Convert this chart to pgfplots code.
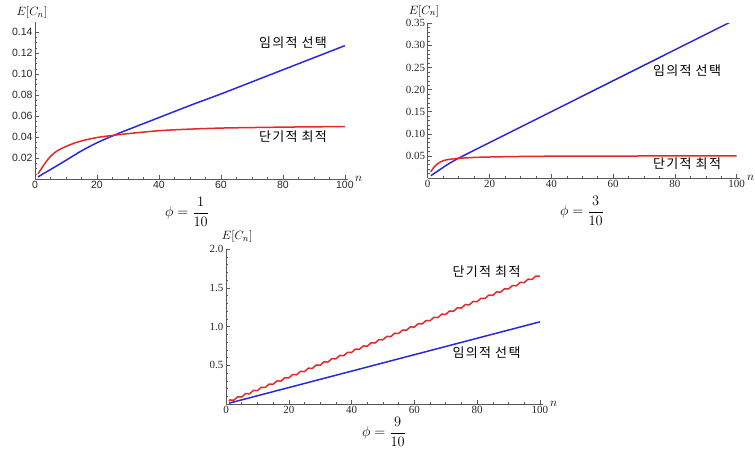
\documentclass[border=0pt]{standalone}
\usepackage{fontspec}
\setmainfont{Liberation Serif}
\newfontfamily\sansf{Liberation Sans}
\newfontfamily\kr{Noto Sans CJK KR}[LetterSpace=10]
\usepackage{pgfplots}
\pgfplotsset{compat=1.18}
\definecolor{cblue}{RGB}{40,40,225}
\definecolor{cred}{RGB}{228,40,40}
\pgfplotsset{
  mma/.style={
    scale only axis,
    anchor=south west,
    axis lines=left,
    axis line style={-, black!65, line width=0.6pt},
    every tick/.style={black!65, line width=0.5pt},
    tick align=inside,
    major tick length=4pt,
    minor tick length=2pt,
    xmin=0, xmax=101, ymin=0,
    xtick={0,20,40,60,80,100},
    minor x tick num=3,
    /pgf/number format/assume math mode=true,
    xticklabel style={yshift=1pt},
    yticklabel style={xshift=1pt},
    every axis plot/.append style={line width=1.5pt, line join=round},
    xlabel={$n$},
    xlabel style={at={(rel axis cs:1,0)}, anchor=west, xshift=7pt, font=\fontsize{12}{14}\selectfont, inner sep=0pt},
    ylabel={$E[C_n]$},
    ylabel style={rotate=-90, at={(rel axis cs:-0.01,1)}, anchor=south, yshift=4pt, font=\fontsize{12.5}{14}\selectfont, inner sep=0pt},
  }
}
\begin{document}
\begin{tikzpicture}[x=1pt,y=1pt]
\useasboundingbox (0,0) rectangle (755,456);

% ---------- phi = 1/10 ----------
\begin{axis}[mma,
  at={(35pt,277pt)}, width=313pt, height=157.5pt,
  ymax=0.15,
  ytick={0,0.02,0.04,0.06,0.08,0.10,0.12,0.14},
  yticklabels={{},0.02,0.04,0.06,0.08,0.10,0.12,0.14},
  minor y tick num=3,
  ticklabel style={font=\sansf\fontsize{10.5}{12}\selectfont, text=black!85},
  ylabel style={yshift=-1pt},
]
\addplot[cblue, smooth] coordinates {
(1,0.002) (2,0.0038) (3,0.0056) (5,0.009) (7,0.0125) (10,0.0178) (15,0.0268)
(20,0.0345) (25,0.041) (30,0.047) (40,0.0585) (50,0.070) (60,0.081)
(70,0.0925) (80,0.104) (90,0.1155) (100,0.127)};
\addplot[cred, smooth] coordinates {
(1,0.005) (2,0.0095) (3,0.014) (4,0.018) (5,0.0215) (7,0.0265) (10,0.031)
(13,0.0345) (16,0.037) (20,0.0395) (25,0.0415) (30,0.0432) (40,0.046)
(50,0.0475) (60,0.0485) (70,0.049) (80,0.0494) (90,0.0497) (100,0.0499)};
\end{axis}

% ---------- phi = 3/10 ----------
\begin{axis}[mma,
  at={(427.7pt,278pt)}, width=312.1pt, height=154.7pt,
  ymax=0.35,
  ytick={0,0.05,0.10,0.15,0.20,0.25,0.30,0.35},
  yticklabels={{},0.05,0.10,0.15,0.20,0.25,0.30,0.35},
  minor y tick num=4,
  ticklabel style={font=\fontsize{11}{12}\selectfont, text=black!85},
  ylabel style={at={(rel axis cs:-0.012,1)}, yshift=2pt},
]
\addplot[cblue, smooth] coordinates {
(1,0.005) (2,0.010) (3,0.0145) (5,0.024) (7,0.033) (10,0.0448) (15,0.0625)
(20,0.080) (30,0.115) (40,0.150) (50,0.185) (60,0.220) (70,0.255)
(80,0.290) (90,0.325) (100,0.360)};
\addplot[cred, smooth] coordinates {
(1,0.014) (2,0.024) (3,0.031) (4,0.036) (5,0.039) (6,0.041) (8,0.043)
(10,0.0445) (15,0.0465) (20,0.0475) (30,0.0487) (40,0.0493) (60,0.0497)
(100,0.05)};
\end{axis}

% ---------- phi = 9/10 ----------
\begin{axis}[mma,
  at={(226pt,52pt)}, width=317pt, height=155pt,
  ymax=2.0,
  ytick={0,0.5,1.0,1.5,2.0},
  yticklabels={{},0.5,1.0,1.5,2.0},
  minor y tick num=4,
  ticklabel style={font=\fontsize{11}{12}\selectfont, text=black!85},
  ylabel style={at={(rel axis cs:0.035,1)}, yshift=2pt},
]
\addplot[cblue] coordinates {(1,0.011) (25,0.265) (50,0.53) (75,0.795) (100,1.06)};
\addplot[cred] coordinates {
(1,0.035) (1.25,0.0525) (2.5,0.049) (3.75,0.0935) (5,0.090) (6.25,0.1345) (7.5,0.131)
(8.75,0.1755) (10,0.172) (11.25,0.2165) (12.5,0.213) (13.75,0.2575) (15,0.254)
(16.25,0.2985) (17.5,0.295) (18.75,0.3395) (20,0.336) (21.25,0.3805) (22.5,0.377)
(23.75,0.4215) (25,0.418) (26.25,0.4625) (27.5,0.459) (28.75,0.5035) (30,0.500)
(31.25,0.5445) (32.5,0.541) (33.75,0.5855) (35,0.582) (36.25,0.6265) (37.5,0.623)
(38.75,0.6675) (40,0.664) (41.25,0.7085) (42.5,0.705) (43.75,0.7495) (45,0.746)
(46.25,0.7905) (47.5,0.787) (48.75,0.8315) (50,0.828) (51.25,0.8725) (52.5,0.869)
(53.75,0.9135) (55,0.910) (56.25,0.9545) (57.5,0.951) (58.75,0.9955) (60,0.992)
(61.25,1.0365) (62.5,1.033) (63.75,1.0775) (65,1.074) (66.25,1.1185) (67.5,1.115)
(68.75,1.1595) (70,1.156) (71.25,1.2005) (72.5,1.197) (73.75,1.2415) (75,1.238)
(76.25,1.2825) (77.5,1.279) (78.75,1.3235) (80,1.320) (81.25,1.3645) (82.5,1.361)
(83.75,1.4055) (85,1.402) (86.25,1.4465) (87.5,1.443) (88.75,1.4875) (90,1.484)
(91.25,1.5285) (92.5,1.525) (93.75,1.5695) (95,1.566) (96.25,1.6105) (97.5,1.607)
(98.75,1.6515) (100,1.648)};
\end{axis}

% ---------- annotations ----------
\node[font=\kr\fontsize{13}{15}\selectfont] at (293,413) {임의적 선택};
\node[font=\kr\fontsize{13}{15}\selectfont] at (293,319) {단기적 최적};
\node[font=\kr\fontsize{13}{15}\selectfont] at (687,385) {임의적 선택};
\node[font=\kr\fontsize{13}{15}\selectfont] at (687,292) {단기적 최적};
\node[font=\kr\fontsize{13}{15}\selectfont] at (486.5,184) {단기적 최적};
\node[font=\kr\fontsize{13}{15}\selectfont] at (486.5,103) {임의적 선택};

% ---------- captions ----------
\node[font=\fontsize{14}{16}\selectfont] at (187,244) {$\displaystyle \phi=\frac{1}{10}$};
\node[font=\fontsize{14}{16}\selectfont] at (582,245) {$\displaystyle \phi=\frac{3}{10}$};
\node[font=\fontsize{14}{16}\selectfont] at (384,24) {$\displaystyle \phi=\frac{9}{10}$};
\end{tikzpicture}
\end{document}
